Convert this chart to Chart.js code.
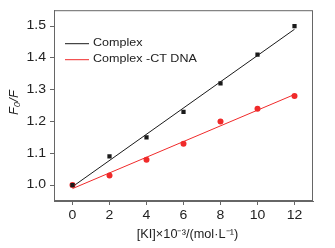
<!DOCTYPE html>
<html>
<head>
<meta charset="utf-8">
<script src="https://cdn.jsdelivr.net/npm/chart.js@4/dist/chart.umd.min.js"></script>
<style>
  html, body { margin: 0; padding: 0; background: #fff; }
  #wrap { width: 335px; height: 248px; }
</style>
</head>
<body>
<div id="wrap"><canvas id="c" width="335" height="248"></canvas></div>
<script>
// values
const concKI = [0, 2, 4, 6, 8, 10, 12]
const complexVals = [1.00, 1.09, 1.15, 1.23, 1.32, 1.41, 1.50]
const complexDnaVals = [1.00, 1.03, 1.08, 1.13, 1.20, 1.24, 1.28]
// fitted line end points (x = 0 and x = 12)
const fitX = [0, 12]
const complexFit = [0.995, 1.490]
const complexDnaFit = [0.989, 1.285]
const xTicks = [0, 2, 4, 6, 8, 10, 12]
const yTicks = [1.0, 1.1, 1.2, 1.3, 1.4, 1.5]
const seriesNames = ['Complex', 'Complex -CT DNA']

const BLACK = '#1a1a1a'
const RED = '#f02a2a'
const FRAME = '#666666'
const TEXT = '#222222'
const FONT = 'Liberation Sans, Arial, sans-serif'

const pts = (xs, ys) => xs.map((x, i) => ({ x: x, y: ys[i] }))

// the original's lettering is a bit wide, so stretch it sideways
function wideText(ctx, text, x, y, font, align, stretch = 1.17) {
    ctx.save()
    ctx.font = font
    ctx.textBaseline = 'middle'
    ctx.textAlign = align
    ctx.translate(x, y)
    ctx.scale(stretch, 1)
    ctx.fillText(text, 0, 0)
    ctx.restore()
}

const framePlugin = {
    id: 'frameAndText',
    afterDraw(chart) {
        const ctx = chart.ctx
        const a = chart.chartArea
        const xs = chart.scales.x, ys = chart.scales.y
        ctx.save()
        // box round the plot
        ctx.strokeStyle = FRAME
        ctx.lineWidth = 1
        ctx.strokeRect(a.left + 0.5, a.top + 0.5, a.right - a.left - 1, a.bottom - a.top - 1)
        ctx.fillStyle = TEXT

        // tick labels
        xTicks.forEach(v => wideText(ctx, String(v), xs.getPixelForValue(v), a.bottom + 15, '12px ' + FONT, 'center'))
        yTicks.forEach(v => wideText(ctx, v.toFixed(1), a.left - 8, ys.getPixelForValue(v), '12px ' + FONT, 'right'))

        // legend inside the plot
        const lx = a.left + 11, tx = a.left + 39
        const rows = [[seriesNames[0], BLACK, a.top + 33], [seriesNames[1], RED, a.top + 49]]
        rows.forEach(([label, col, y]) => {
            ctx.strokeStyle = col
            ctx.beginPath()
            ctx.moveTo(lx, y + 0.5)
            ctx.lineTo(lx + 24, y + 0.5)
            ctx.stroke()
            wideText(ctx, label, tx, y, '11px ' + FONT, 'left', 1.14)
        })

        // x title
        wideText(ctx, '[KI]×10⁻³/(mol·L⁻¹)', (a.left + a.right) / 2 + 4, 235, '12px ' + FONT, 'center', 1.06)

        // y title, italic F with subscript 0
        ctx.translate(14, (a.top + a.bottom) / 2 - 3)
        ctx.rotate(-Math.PI / 2)
        ctx.textAlign = 'center'
        ctx.textBaseline = 'middle'
        ctx.font = 'italic 13px ' + FONT
        ctx.fillText('F₀/F', 0, 0)
        ctx.restore()
    }
}

new Chart(document.getElementById('c').getContext('2d'), {
    type: 'scatter',
    data: {
        datasets: [
            {
                label: seriesNames[0],
                data: pts(concKI, complexVals),
                pointStyle: 'rect',
                pointRadius: 3,
                backgroundColor: BLACK,
                borderColor: BLACK,
                borderWidth: 0,
                showLine: false
            },
            {
                label: seriesNames[1],
                data: pts(concKI, complexDnaVals),
                pointStyle: 'circle',
                pointRadius: 3,
                backgroundColor: RED,
                borderColor: RED,
                borderWidth: 0,
                showLine: false
            },
            {
                label: 'fit1',
                data: pts(fitX, complexFit),
                showLine: true,
                pointRadius: 0,
                borderColor: BLACK,
                borderWidth: 1
            },
            {
                label: 'fit2',
                data: pts(fitX, complexDnaFit),
                showLine: true,
                pointRadius: 0,
                borderColor: RED,
                borderWidth: 1
            }
        ]
    },
    options: {
        responsive: false,
        animation: false,
        layout: { padding: { top: 10, right: 22, left: 0, bottom: 0 } },
        plugins: { legend: { display: false }, tooltip: { enabled: false } },
        scales: {
            x: {
                type: 'linear',
                min: -1,
                max: 13,
                afterBuildTicks(scale) { scale.ticks = xTicks.map(v => ({ value: v })) },
                afterFit(scale) { scale.height = 47 },
                grid: { drawOnChartArea: false, drawTicks: true, tickLength: 4, color: FRAME },
                border: { display: true, color: FRAME },
                ticks: { color: 'rgba(0,0,0,0)', font: { family: FONT, size: 12 }, padding: 3, maxRotation: 0 }
            },
            y: {
                type: 'linear',
                min: 0.95,
                max: 1.55,
                afterBuildTicks(scale) { scale.ticks = yTicks.map(v => ({ value: v })) },
                afterFit(scale) { scale.width = 54 },
                grid: { drawOnChartArea: false, drawTicks: true, tickLength: 4, color: FRAME },
                border: { display: true, color: FRAME },
                ticks: {
                    color: 'rgba(0,0,0,0)',
                    font: { family: FONT, size: 12 },
                    padding: 3,
                    callback: v => v.toFixed(1)
                }
            }
        }
    },
    plugins: [framePlugin]
})
</script>
</body>
</html>
